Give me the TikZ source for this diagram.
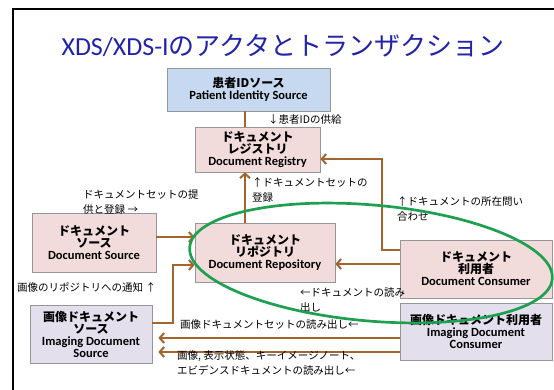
\documentclass[tikz,border=0pt]{standalone}
\usepackage{fontspec}
\setmainfont{Carlito}
\newfontfamily\jp{Noto Sans CJK JP}
\usetikzlibrary{arrows.meta,calc}
\definecolor{brn}{RGB}{163,100,45}
\definecolor{bgray}{RGB}{150,150,150}
\definecolor{pinkf}{RGB}{242,220,219}
\definecolor{bluef}{RGB}{198,217,241}
\definecolor{lavf}{RGB}{228,223,236}
\definecolor{ttl}{RGB}{35,35,170}
\definecolor{grn}{RGB}{30,160,80}
\newcommand\jb[1]{{\jp\bfseries\fontsize{12}{14.5}\selectfont #1}}
\newcommand\eb[1]{{\bfseries\fontsize{12.5}{14.5}\selectfont #1}}
\tikzset{
  box/.style={draw=bgray, line width=0.7pt, inner sep=0pt, align=center},
  conn/.style={draw=brn, line width=2pt},
  arr/.style={conn, -{Straight Barb[length=4.5pt,width=10pt]}},
  lbl/.style={font=\jp\fontsize{10.5}{15}\selectfont, inner sep=0pt, align=left, anchor=north west}
}
\begin{document}
\begin{tikzpicture}[x=1pt,y=-1pt]
\useasboundingbox (0,0) rectangle (554,390);
\fill[white] (0,0) rectangle (554,390);
\draw[line width=2pt] (13,391) -- (13,9) -- (555,9);

\node[text=ttl, inner sep=0pt] (title) at (283,46) {\fontsize{26}{30}\selectfont XDS/XDS-I\jp のアクタとトランザクション};

\node[box, fill=bluef, minimum width=163, minimum height=43] (pat) at (248.5,89.5) {\jb{患者IDソース}\\\eb{Patient Identity Source}};
\node[box, fill=pinkf, minimum width=125, minimum height=45] (reg) at (257.5,149.5) {\jb{ドキュメント}\\\jb{レジストリ}\\\eb{Document Registry}};
\node[box, fill=pinkf, minimum width=124, minimum height=59] (src) at (94,242.5) {\jb{ドキュメント}\\\jb{ソース}\\\eb{Document Source}};
\node[box, fill=pinkf, minimum width=140, minimum height=59] (repo) at (265,252.5) {\jb{ドキュメント}\\\jb{リポジトリ}\\\eb{Document Repository}};
\node[box, fill=pinkf, minimum width=152, minimum height=58] (cons) at (476,269) {\jb{ドキュメント}\\\jb{利用者}\\\eb{Document Consumer}};
\node[box, fill=lavf, minimum width=122, minimum height=58] (ids) at (91,334) {\jb{画像ドキュメント}\\\jb{ソース}\\\eb{Imaging Document}\\\eb{Source}};
\node[box, fill=lavf, minimum width=152, minimum height=57] (idc) at (476,331.5) {\jb{画像ドキュメント利用者}\\\eb{Imaging Document}\\\eb{Consumer}};

\coordinate (vx) at (245,0);
\coordinate (q1) at (382,250);
\coordinate (q2) at (382,159);
\coordinate (s1) at (0,237);
\coordinate (c1) at (0,264);
\coordinate (i1) at (173,323);
\coordinate (i2) at (173,265);
\coordinate (r1) at (0,338);
\coordinate (r2) at (0,352);

\draw[conn] (pat.south -| vx) -- (reg.north -| vx);
\draw[arr] (repo.north -| vx) -- (reg.south -| vx);
\draw[arr] (q1 -| cons.west) -- (q1) -- (q2) -- (q2 -| reg.east);
\draw[arr] (s1 -| src.east) -- (s1 -| repo.west);
\draw[arr] (c1 -| cons.west) -- (c1 -| repo.east);
\draw[arr] (i1 -| ids.east) -- (i1) -- (i2) -- (i2 -| repo.west);
\draw[arr] (r1 -| idc.west) -- ($(r1 -| ids.east)+(6,0)$);
\draw[arr] (r2 -| idc.west) -- ($(r2 -| ids.east)+(6,0)$);

\node[lbl] (l1) at (268,114) {↓患者IDの供給};
\node[lbl] (l2) at (252,177) {↑ドキュメントセットの\\登録};
\node[lbl] (l3) at (397,196) {↑ドキュメントの所在問い\\合わせ};
\node[lbl] (l4) at (83,189) {ドキュメントセットの提\\供と登録 →};
\node[lbl] (l5) at (17,282) {画像のリポジトリへの通知 ↑};
\node[lbl] (l6) at (300,287) {←ドキュメントの読み\\出し};
\node[lbl] (l7) at (180,319) {画像ドキュメントセットの読み出し←};
\node[lbl] (l8) at (177,350) {画像, 表示状態、キーイメージノート、\\エビデンスドキュメントの読み出し←};

\draw[grn, line width=2.7pt, rotate around={-5:(371,263)}] (371,263) ellipse [x radius=182, y radius=58];
\end{tikzpicture}
\end{document}
